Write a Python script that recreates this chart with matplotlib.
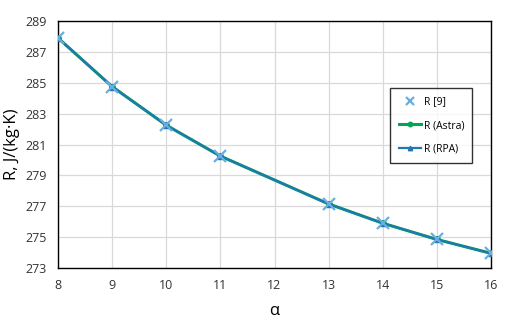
import matplotlib
matplotlib.use("Agg")
import matplotlib.pyplot as plt

alpha = [8, 9, 10, 11, 13, 14, 15, 16]
r_ref9 = [287.9, 284.75, 282.25, 280.25, 277.15, 275.9, 274.85, 273.95]
r_astra = [287.9, 284.75, 282.25, 280.25, 277.15, 275.9, 274.85, 273.95]
r_rpa = [287.9, 284.75, 282.25, 280.25, 277.15, 275.9, 274.85, 273.95]
x_ticks = [8, 9, 10, 11, 12, 13, 14, 15, 16]
y_ticks = [273, 275, 277, 279, 281, 283, 285, 287, 289]

plt.rcParams['font.family'] = ['Open Sans', 'DejaVu Sans']

fig = plt.figure(figsize=(5.05, 3.26), dpi=100)
ax = fig.add_axes([58/505, 1-268/326, (491-58)/505, (268-21)/326])

ax.plot(alpha, r_astra, color='#00a651', lw=2.2, marker='o', ms=4, label='R (Astra)', zorder=3)
ax.plot(alpha, r_rpa, color='#1f78b0', lw=1.6, marker='^', ms=4, label='R (RPA)', zorder=4)
ax.plot(alpha, r_ref9, ls='none', marker='x', ms=8, mew=1.6, color='#6aaee0', label='R [9]', zorder=5)

ax.set_xlim(8, 16)
ax.set_ylim(273, 289)
ax.set_xticks(x_ticks)
ax.set_yticks(y_ticks)
ax.tick_params(length=0, labelsize=9, pad=8, colors='#333333')
ax.grid(True, color='#d9d9d9', lw=0.9)
ax.set_axisbelow(True)
for s in ax.spines.values():
    s.set_color('black')
    s.set_linewidth(1.0)

ax.set_xlabel('α', fontsize=12, labelpad=8)
ax.set_ylabel('R, J/(kg·K)', fontsize=12, labelpad=4)

h, l = ax.get_legend_handles_labels()
order = [2, 0, 1]
leg = ax.legend([h[i] for i in order], [l[i] for i in order], loc='upper left',
                bbox_to_anchor=((385-58)/433, 1-(83-21)/247), fontsize=7.5,
                frameon=True, fancybox=False, edgecolor='black', handlelength=2.2,
                borderpad=0.8, labelspacing=1.2, handletextpad=0.2, markerscale=0.8)
leg.get_frame().set_linewidth(1.0)

fig.savefig('out.png', dpi=100)
